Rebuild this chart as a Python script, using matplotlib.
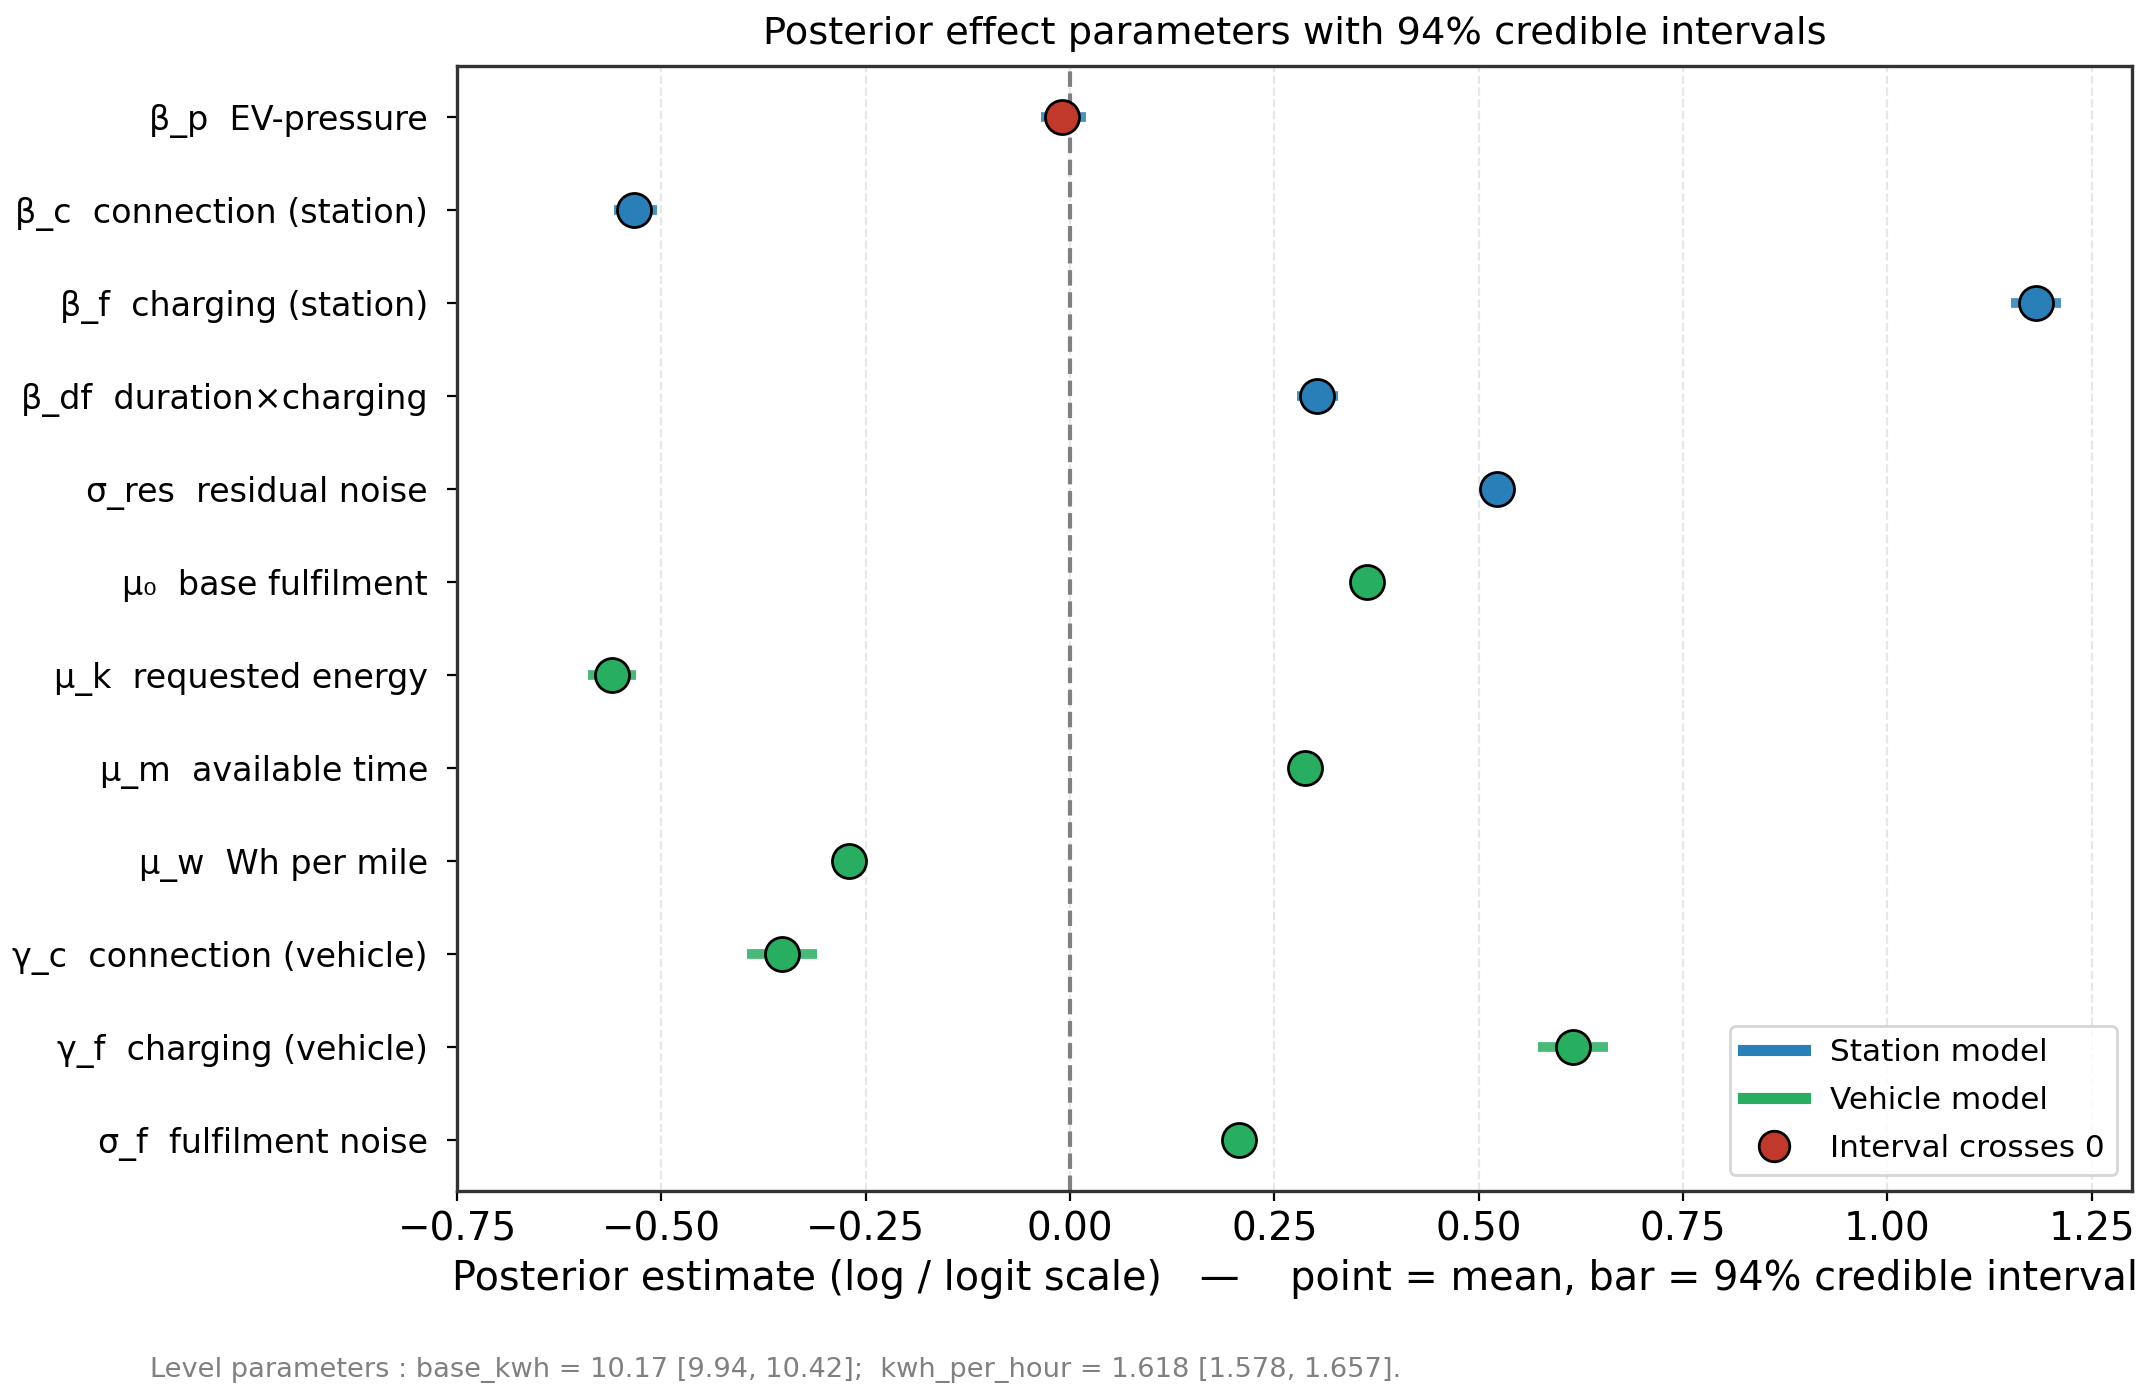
import matplotlib
matplotlib.use('Agg')
import matplotlib.pyplot as plt
from matplotlib.lines import Line2D

# parameter labels, top to bottom
labels = [
    "β_p  EV-pressure",
    "β_c  connection (station)",
    "β_f  charging (station)",
    "β_df  duration×charging",
    "σ_res  residual noise",
    "μ₀  base fulfilment",
    "μ_k  requested energy",
    "μ_m  available time",
    "μ_w  Wh per mile",
    "γ_c  connection (vehicle)",
    "γ_f  charging (vehicle)",
    "σ_f  fulfilment noise",
]
model = ["station"] * 5 + ["vehicle"] * 7
means = [-0.010, -0.533, 1.182, 0.302, 0.523, 0.363, -0.560, 0.288, -0.271, -0.352, 0.615, 0.207]
lower = [-0.035, -0.558, 1.152, 0.278, 0.512, 0.343, -0.590, 0.274, -0.286, -0.395, 0.573, 0.193]
upper = [0.020, -0.506, 1.212, 0.328, 0.534, 0.382, -0.531, 0.303, -0.255, -0.309, 0.658, 0.222]

level_note = ("Level parameters : base_kwh = 10.17 [9.94, 10.42];  "
              "kwh_per_hour = 1.618 [1.578, 1.657].")

colors = {"station": "#2980b9", "vehicle": "#27ae60"}
red = "#c0392b"

fig = plt.figure(figsize=(2149 / 200, 1395 / 200), dpi=200)
ax = fig.add_axes([0.2127, 0.1465, 0.7796, 0.8062])

for i, (m, lo, hi, grp) in enumerate(zip(means, lower, upper, model)):
    c = colors[grp]
    ax.hlines(i, lo, hi, color=c, lw=3.5, alpha=0.85, zorder=2)
    crosses = lo < 0 < hi
    ax.scatter(m, i, s=150, color=red if crosses else c,
               edgecolor="black", linewidth=1.0, zorder=3)

ax.axvline(0, color="gray", ls="--", lw=1.5, zorder=1)
ax.set_yticks(range(len(labels)))
ax.set_yticklabels(labels, fontsize=12)
ax.invert_yaxis()
ax.set_xlim(-0.75, 1.30)
ax.set_xticks([-0.75, -0.5, -0.25, 0, 0.25, 0.5, 0.75, 1.0, 1.25])
ax.tick_params(axis="x", labelsize=14)
ax.tick_params(axis="y", pad=7)
ax.grid(axis="x", ls="--", alpha=0.3)
ax.set_axisbelow(True)
for sp in ax.spines.values():
    sp.set_color("#333333")
    sp.set_linewidth(1.2)

ax.set_xlabel("Posterior estimate (log / logit scale)   —    point = mean, bar = 94% credible interval",
              fontsize=14.3)
ax.set_title("Posterior effect parameters with 94% credible intervals", fontsize=13.8, pad=8)

handles = [
    Line2D([0], [0], color=colors["station"], lw=4, label="Station model"),
    Line2D([0], [0], color=colors["vehicle"], lw=4, label="Vehicle model"),
    Line2D([0], [0], marker="o", color="none", markerfacecolor=red,
           markeredgecolor="black", markersize=11, label="Interval crosses 0"),
]
ax.legend(handles=handles, loc="lower right", fontsize=11.2, labelspacing=0.6)

fig.text(0.07, 0.013, level_note, fontsize=9.8, color="gray")

fig.savefig("out.png", dpi=200)
